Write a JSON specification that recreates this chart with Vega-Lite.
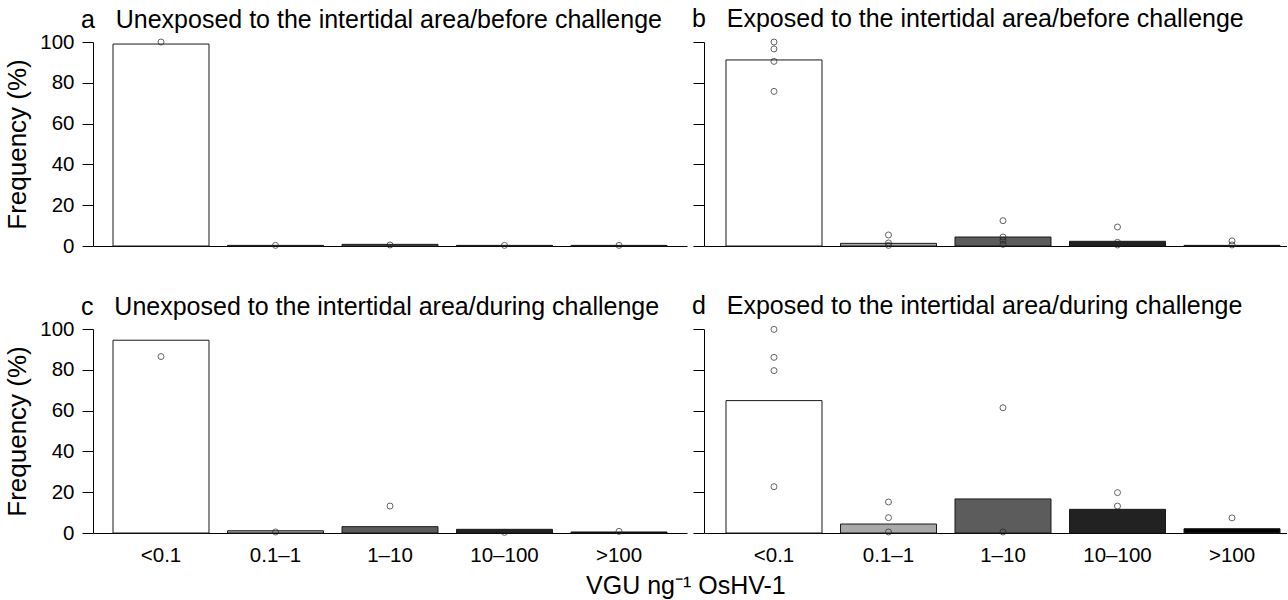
{
  "$schema": "https://vega.github.io/schema/vega-lite/v6.json",
  "background": "white",
  "padding": {"left": 4, "top": 7, "right": 0, "bottom": 2},
  "config": {
    "font": "Liberation Sans",
    "view": {"stroke": null},
    "axis": {
      "grid": false,
      "domainColor": "black",
      "tickColor": "black",
      "labelColor": "black",
      "titleColor": "black",
      "labelFontSize": 20.5,
      "titleFontSize": 26,
      "titleFontWeight": "normal",
      "tickSize": 11,
      "domainWidth": 1,
      "tickWidth": 1,
      "labelPadding": 8
    },
    "title": {
      "fontSize": 25,
      "fontWeight": "normal",
      "color": "black",
      "anchor": "start",
      "frame": "group",
      "dx": -12,
      "offset": -1
    }
  },
  "datasets": {
    "bars": [
      {"panel": "a", "cat": "<0.1", "value": 99.0},
      {"panel": "a", "cat": "0.1–1", "value": 0.3},
      {"panel": "a", "cat": "1–10", "value": 0.8},
      {"panel": "a", "cat": "10–100", "value": 0.3},
      {"panel": "a", "cat": ">100", "value": 0.3},
      {"panel": "b", "cat": "<0.1", "value": 91.2},
      {"panel": "b", "cat": "0.1–1", "value": 1.3},
      {"panel": "b", "cat": "1–10", "value": 4.4},
      {"panel": "b", "cat": "10–100", "value": 2.3},
      {"panel": "b", "cat": ">100", "value": 0.3},
      {"panel": "c", "cat": "<0.1", "value": 94.5},
      {"panel": "c", "cat": "0.1–1", "value": 1.1},
      {"panel": "c", "cat": "1–10", "value": 3.1},
      {"panel": "c", "cat": "10–100", "value": 1.8},
      {"panel": "c", "cat": ">100", "value": 0.5},
      {"panel": "d", "cat": "<0.1", "value": 64.9},
      {"panel": "d", "cat": "0.1–1", "value": 4.4},
      {"panel": "d", "cat": "1–10", "value": 16.7},
      {"panel": "d", "cat": "10–100", "value": 11.6},
      {"panel": "d", "cat": ">100", "value": 2.1}
    ],
    "points": [
      {"panel": "a", "cat": "<0.1", "value": 100},
      {"panel": "a", "cat": "0.1–1", "value": 0.3},
      {"panel": "a", "cat": "1–10", "value": 0.5},
      {"panel": "a", "cat": "10–100", "value": 0.3},
      {"panel": "a", "cat": ">100", "value": 0.3},
      {"panel": "b", "cat": "<0.1", "value": 100},
      {"panel": "b", "cat": "<0.1", "value": 96.6},
      {"panel": "b", "cat": "<0.1", "value": 90.5},
      {"panel": "b", "cat": "<0.1", "value": 75.8},
      {"panel": "b", "cat": "0.1–1", "value": 5.4},
      {"panel": "b", "cat": "0.1–1", "value": 1.5},
      {"panel": "b", "cat": "0.1–1", "value": 0.3},
      {"panel": "b", "cat": "1–10", "value": 12.4},
      {"panel": "b", "cat": "1–10", "value": 4.4},
      {"panel": "b", "cat": "1–10", "value": 2.8},
      {"panel": "b", "cat": "1–10", "value": 0.8},
      {"panel": "b", "cat": "10–100", "value": 9.3},
      {"panel": "b", "cat": "10–100", "value": 1.8},
      {"panel": "b", "cat": "10–100", "value": 0.5},
      {"panel": "b", "cat": ">100", "value": 2.5},
      {"panel": "b", "cat": ">100", "value": 0.5},
      {"panel": "c", "cat": "<0.1", "value": 86.5},
      {"panel": "c", "cat": "0.1–1", "value": 0.5},
      {"panel": "c", "cat": "1–10", "value": 13.2},
      {"panel": "c", "cat": "10–100", "value": 0.3},
      {"panel": "c", "cat": ">100", "value": 0.8},
      {"panel": "d", "cat": "<0.1", "value": 99.8},
      {"panel": "d", "cat": "<0.1", "value": 86.1},
      {"panel": "d", "cat": "<0.1", "value": 79.6},
      {"panel": "d", "cat": "<0.1", "value": 22.7},
      {"panel": "d", "cat": "0.1–1", "value": 15.2},
      {"panel": "d", "cat": "0.1–1", "value": 7.5},
      {"panel": "d", "cat": "0.1–1", "value": 0.5},
      {"panel": "d", "cat": "1–10", "value": 61.4},
      {"panel": "d", "cat": "1–10", "value": 0.5},
      {"panel": "d", "cat": "10–100", "value": 19.8},
      {"panel": "d", "cat": "10–100", "value": 13.2},
      {"panel": "d", "cat": "10–100", "value": 7.4},
      {"panel": "d", "cat": ">100", "value": 7.4}
    ]
  },
  "title": {
    "text": "VGU ng⁻¹ OsHV-1",
    "orient": "bottom",
    "anchor": "middle",
    "frame": "bounds",
    "fontSize": 25,
    "dx": 40,
    "offset": 8
  },
  "spacing": 37,
  "vconcat": [
    {
      "spacing": 5,
      "hconcat": [
        {
          "width": 594, "height": 204,
          "title": {"text": "a\u00a0\u00a0\u00a0Unexposed to the intertidal area/before challenge"},
          "layer": [
            {
              "data": {"name": "bars"},
              "transform": [{"filter": "datum.panel === 'a'"}],
              "mark": {"type": "bar", "stroke": "#1a1a1a", "strokeWidth": 1},
              "encoding": {
                "x": {"field": "cat", "type": "nominal", "sort": ["<0.1", "0.1–1", "1–10", "10–100", ">100"],
                      "scale": {"domain": ["<0.1", "0.1–1", "1–10", "10–100", ">100"], "paddingInner": 0.1616, "paddingOuter": 0.1747, "align": 0.5},
                      "axis": {"labels": false, "ticks": false, "title": null}},
                "y": {"field": "value", "type": "quantitative", "scale": {"domain": [0, 100], "nice": false},
                      "axis": {"values": [0, 20, 40, 60, 80, 100], "title": "Frequency (%)", "titlePadding": 9}},
                "fill": {"field": "cat", "type": "nominal", "scale": {"domain": ["<0.1", "0.1–1", "1–10", "10–100", ">100"], "range": ["#ffffff", "#a9a9a9", "#5c5c5c", "#222222", "#000000"]}, "legend": null}
              }
            },
            {
              "data": {"name": "points"},
              "transform": [{"filter": "datum.panel === 'a'"}],
              "mark": {"type": "point", "shape": "circle", "filled": false, "color": "#222222", "size": 36, "strokeWidth": 1},
              "encoding": {
                "x": {"field": "cat", "type": "nominal"},
                "y": {"field": "value", "type": "quantitative"}
              }
            }
          ]
        },
        {
          "width": 583, "height": 204,
          "title": {"text": "b\u00a0\u00a0\u00a0Exposed to the intertidal area/before challenge", "offset": 5},
          "layer": [
            {
              "data": {"name": "bars"},
              "transform": [{"filter": "datum.panel === 'b'"}],
              "mark": {"type": "bar", "stroke": "#1a1a1a", "strokeWidth": 1},
              "encoding": {
                "x": {"field": "cat", "type": "nominal", "sort": ["<0.1", "0.1–1", "1–10", "10–100", ">100"],
                      "scale": {"domain": ["<0.1", "0.1–1", "1–10", "10–100", ">100"], "paddingInner": 0.1616, "paddingOuter": 0.1266, "align": 0.7586},
                      "axis": {"labels": false, "ticks": false, "title": null}},
                "y": {"field": "value", "type": "quantitative", "scale": {"domain": [0, 100], "nice": false},
                      "axis": {"values": [0, 20, 40, 60, 80, 100], "labels": false, "title": null}},
                "fill": {"field": "cat", "type": "nominal", "scale": {"domain": ["<0.1", "0.1–1", "1–10", "10–100", ">100"], "range": ["#ffffff", "#a9a9a9", "#5c5c5c", "#222222", "#000000"]}, "legend": null}
              }
            },
            {
              "data": {"name": "points"},
              "transform": [{"filter": "datum.panel === 'b'"}],
              "mark": {"type": "point", "shape": "circle", "filled": false, "color": "#222222", "size": 36, "strokeWidth": 1},
              "encoding": {
                "x": {"field": "cat", "type": "nominal"},
                "y": {"field": "value", "type": "quantitative"}
              }
            }
          ]
        }
      ]
    },
    {
      "spacing": 5,
      "hconcat": [
        {
          "width": 594, "height": 204,
          "title": {"text": "c\u00a0\u00a0\u00a0Unexposed to the intertidal area/during challenge"},
          "layer": [
            {
              "data": {"name": "bars"},
              "transform": [{"filter": "datum.panel === 'c'"}],
              "mark": {"type": "bar", "stroke": "#1a1a1a", "strokeWidth": 1},
              "encoding": {
                "x": {"field": "cat", "type": "nominal", "sort": ["<0.1", "0.1–1", "1–10", "10–100", ">100"],
                      "scale": {"domain": ["<0.1", "0.1–1", "1–10", "10–100", ">100"], "paddingInner": 0.1616, "paddingOuter": 0.1747, "align": 0.5},
                      "axis": {"ticks": false, "title": null, "labelAngle": 0, "labelPadding": 12}},
                "y": {"field": "value", "type": "quantitative", "scale": {"domain": [0, 100], "nice": false},
                      "axis": {"values": [0, 20, 40, 60, 80, 100], "title": "Frequency (%)", "titlePadding": 9}},
                "fill": {"field": "cat", "type": "nominal", "scale": {"domain": ["<0.1", "0.1–1", "1–10", "10–100", ">100"], "range": ["#ffffff", "#a9a9a9", "#5c5c5c", "#222222", "#000000"]}, "legend": null}
              }
            },
            {
              "data": {"name": "points"},
              "transform": [{"filter": "datum.panel === 'c'"}],
              "mark": {"type": "point", "shape": "circle", "filled": false, "color": "#222222", "size": 36, "strokeWidth": 1},
              "encoding": {
                "x": {"field": "cat", "type": "nominal"},
                "y": {"field": "value", "type": "quantitative"}
              }
            }
          ]
        },
        {
          "width": 583, "height": 204,
          "title": {"text": "d\u00a0\u00a0\u00a0Exposed to the intertidal area/during challenge", "offset": 5},
          "layer": [
            {
              "data": {"name": "bars"},
              "transform": [{"filter": "datum.panel === 'd'"}],
              "mark": {"type": "bar", "stroke": "#1a1a1a", "strokeWidth": 1},
              "encoding": {
                "x": {"field": "cat", "type": "nominal", "sort": ["<0.1", "0.1–1", "1–10", "10–100", ">100"],
                      "scale": {"domain": ["<0.1", "0.1–1", "1–10", "10–100", ">100"], "paddingInner": 0.1616, "paddingOuter": 0.1266, "align": 0.7586},
                      "axis": {"ticks": false, "title": null, "labelAngle": 0, "labelPadding": 12}},
                "y": {"field": "value", "type": "quantitative", "scale": {"domain": [0, 100], "nice": false},
                      "axis": {"values": [0, 20, 40, 60, 80, 100], "labels": false, "title": null}},
                "fill": {"field": "cat", "type": "nominal", "scale": {"domain": ["<0.1", "0.1–1", "1–10", "10–100", ">100"], "range": ["#ffffff", "#a9a9a9", "#5c5c5c", "#222222", "#000000"]}, "legend": null}
              }
            },
            {
              "data": {"name": "points"},
              "transform": [{"filter": "datum.panel === 'd'"}],
              "mark": {"type": "point", "shape": "circle", "filled": false, "color": "#222222", "size": 36, "strokeWidth": 1},
              "encoding": {
                "x": {"field": "cat", "type": "nominal"},
                "y": {"field": "value", "type": "quantitative"}
              }
            }
          ]
        }
      ]
    }
  ]
}
